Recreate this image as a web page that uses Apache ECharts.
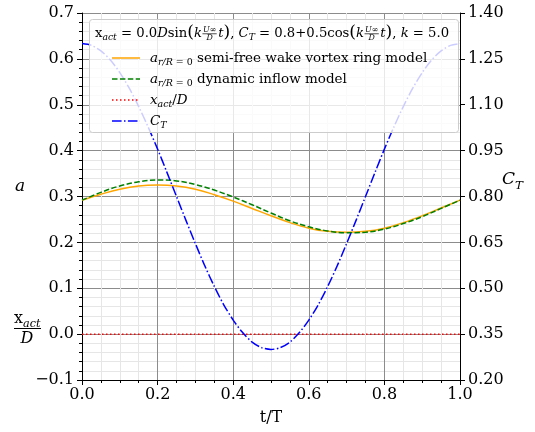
<!DOCTYPE html>
<html><head><meta charset="utf-8">
<script src="https://cdn.jsdelivr.net/npm/echarts@6/dist/echarts.min.js"></script>
<style>html,body{margin:0;padding:0;background:#fff}#c{width:535px;height:432px}</style>
</head><body><div id="c"></div>
<script>
// ---- data ----
const tA = [0,0.05,0.1,0.15,0.2,0.25,0.3,0.35,0.4,0.45,0.5,0.55,0.6,0.65,0.7,0.75,0.8,0.85,0.9,0.95,1.0];
const aSemiFree = [0.292,0.305,0.316,0.323,0.325,0.323,0.316,0.304,0.290,0.274,0.258,0.243,0.231,0.224,0.222,0.224,0.231,0.243,0.258,0.275,0.292];
const aDynInflow = [0.292,0.309,0.323,0.332,0.336,0.334,0.326,0.314,0.299,0.282,0.264,0.247,0.234,0.225,0.221,0.222,0.229,0.241,0.256,0.274,0.292];
const xActD = [0,0,0,0,0,0,0,0,0,0,0,0,0,0,0,0,0,0,0,0,0];
const tCT = [0,0.025,0.05,0.075,0.1,0.125,0.15,0.175,0.2,0.225,0.25,0.275,0.3,0.325,0.35,0.375,0.4,0.425,0.45,0.475,0.5,0.525,0.55,0.575,0.6,0.625,0.65,0.675,0.7,0.725,0.75,0.775,0.8,0.825,0.85,0.875,0.9,0.925,0.95,0.975,1.0];
const ctValues = [1.300,1.294,1.276,1.246,1.205,1.154,1.094,1.027,0.955,0.878,0.800,0.722,0.646,0.573,0.506,0.446,0.396,0.355,0.324,0.306,0.300,0.306,0.324,0.355,0.396,0.446,0.506,0.573,0.646,0.722,0.800,0.878,0.955,1.027,1.094,1.154,1.205,1.246,1.276,1.294,1.300];
const rightTicks = [0.20,0.35,0.50,0.65,0.80,0.95,1.10,1.25,1.40];

const FONT = 'DejaVu Serif';
const ctx2 = document.createElement('canvas').getContext('2d');
function fstr(sz, it){ return (it?'italic ':'') + sz + 'px "' + FONT + '", serif'; }
function mw(t, sz, it){ ctx2.font = fstr(sz,it); return ctx2.measureText(t).width; }
function txt(x, yc, t, sz, it, align){
  return {type:'text', z:101, x:x, y:yc, silent:true,
    style:{text:t, font:fstr(sz,it), fill:'#000', align:align||'left', textAlign:align||'left', verticalAlign:'middle', textVerticalAlign:'middle'}};
}
function mathRow(x, base, segs, sz, out){
  let cx = x;
  for (const s of segs){
    if (s.frac){
      const fs = sz*0.6;
      const wn = mw(s.frac[0], fs, true), wd = mw(s.frac[1], fs, true);
      const fw = Math.max(wn, wd) + 2;
      const ay = base - sz*0.32;
      out.push(txt(cx+fw/2, ay - fs*0.5, s.frac[0], fs, true, 'center'));
      out.push(txt(cx+fw/2, ay + fs*0.58, s.frac[1], fs, true, 'center'));
      out.push({type:'line', z:101, silent:true, shape:{x1:cx+0.5,y1:ay,x2:cx+fw-0.5,y2:ay}, style:{stroke:'#000', lineWidth:0.7}});
      cx += fw + 1;
      continue;
    }
    const fs = s.sub ? sz*0.7 : sz*(s.sc||1);
    const b = s.sub ? base + sz*0.22 : base + (s.sc ? sz*(s.sc-1)*0.25 : 0);
    out.push(txt(cx, b - fs*0.36, s.t, fs, s.it));
    cx += mw(s.t, fs, s.it);
  }
  return cx;
}

const G = [];
// legend box
G.push({type:'rect', z:100, silent:true, shape:{x:89.5,y:19.5,width:369,height:113,r:3}, style:{fill:'rgba(255,255,255,0.8)', stroke:'#cccccc', lineWidth:1}});
const LS = 13.5;
mathRow(95, 38, [
  {t:'x'},{t:'act',sub:true,it:true},{t:' = 0.0'},{t:'D',it:true},{t:'sin'},{t:'(',sc:1.3},{t:'k',it:true},{frac:['U∞','D']},{t:'t',it:true},{t:')',sc:1.3},{t:', '},
  {t:'C',it:true},{t:'T',sub:true,it:true},{t:' = 0.8+0.5cos'},{t:'(',sc:1.3},{t:'k',it:true},{frac:['U∞','D']},{t:'t',it:true},{t:')',sc:1.3},{t:', '},{t:'k',it:true},{t:' = 5.0'}
], 13.2, G);
const rows = [
  {y:58, color:'#FFA500', dash:null, segs:[{t:'a',it:true},{t:'r/R',sub:true,it:true},{t:' = 0',sub:true},{t:' semi-free wake vortex ring model'}]},
  {y:79, color:'#008000', dash:[5.5,2.4], segs:[{t:'a',it:true},{t:'r/R',sub:true,it:true},{t:' = 0',sub:true},{t:' dynamic inflow model'}]},
  {y:100, color:'#FF0000', dash:[1.5,2.5], segs:[{t:'x',it:true},{t:'act',sub:true,it:true},{t:'/'},{t:'D',it:true}]},
  {y:121, color:'#0000FF', dash:[9.6,2.4,1.5,2.4], segs:[{t:'C',it:true},{t:'T',sub:true,it:true}]}
];
for (const r of rows){
  G.push({type:'line', z:101, silent:true, shape:{x1:112,y1:r.y,x2:140,y2:r.y}, style:{stroke:r.color, lineWidth:1.5, lineDash:r.dash||null}});
  mathRow(150, r.y+5, r.segs, LS, G);
}
// left axis labels
G.push(txt(20, 187, 'a', 17, true, 'center'));
mathRow(14, 325, [{t:'x'},{t:'act',sub:true,it:true}], 16, G);
G.push({type:'line', z:101, silent:true, shape:{x1:14,y1:328.5,x2:41,y2:328.5}, style:{stroke:'#000', lineWidth:1}});
G.push(txt(27, 339, 'D', 16, true, 'center'));
// right axis label
mathRow(502, 186, [{t:'C',it:true},{t:'T',sub:true,it:true}], 17, G);

const chart = echarts.init(document.getElementById('c'), null, {renderer:'canvas'});
const axisText = {fontFamily:FONT, fontSize:16, color:'#000'};
chart.setOption({
  animation:false,
  backgroundColor:'#fff',
  grid:{left:82, right:75, top:13, bottom:52, containLabel:false},
  xAxis:{type:'value', min:0, max:1, interval:0.2,
    name:'t/T', nameLocation:'middle', nameGap:30, nameTextStyle:{fontFamily:FONT, fontSize:16, color:'#000'},
    axisLine:{show:true, onZero:false, lineStyle:{color:'#000', width:1}},
    axisTick:{show:true, length:5, inside:false, lineStyle:{color:'#000'}},
    minorTick:{show:true, splitNumber:4, length:3, lineStyle:{color:'#000'}},
    axisLabel:Object.assign({margin:7, formatter:v=>v.toFixed(1)}, axisText),
    splitLine:{show:true, lineStyle:{color:'#8c8c8c', width:1}},
    minorSplitLine:{show:true, lineStyle:{color:'#e6e6e6', width:1}}
  },
  yAxis:[
    {type:'value', position:'left', min:-0.1, max:0.7, interval:0.1,
      axisLine:{show:true, onZero:false, lineStyle:{color:'#000', width:1}},
      axisTick:{show:true, length:5, lineStyle:{color:'#000'}},
      minorTick:{show:true, splitNumber:5, length:3, lineStyle:{color:'#000'}},
      axisLabel:Object.assign({margin:8, formatter:v=>(v<-1e-9?'\u2212':'')+Math.abs(v).toFixed(1)}, axisText),
      splitLine:{show:true, lineStyle:{color:'#8c8c8c', width:1}},
      minorSplitLine:{show:true, lineStyle:{color:'#e6e6e6', width:1}}
    },
    {type:'value', position:'right', min:0.2, max:1.4,
      axisLine:{show:true, onZero:false, lineStyle:{color:'#000', width:1}},
      axisTick:{show:true, length:5, customValues:rightTicks, lineStyle:{color:'#000'}},
      axisLabel:Object.assign({margin:8, customValues:rightTicks, formatter:v=>v.toFixed(2)}, axisText),
      splitLine:{show:false}
    }
  ],
  series:[
    {type:'line', name:'semi-free', yAxisIndex:0, data:tA.map((t,i)=>[t,aSemiFree[i]]), showSymbol:false, smooth:0.4, lineStyle:{color:'#FFA500', width:1.5}, z:3},
    {type:'line', name:'dynamic', yAxisIndex:0, data:tA.map((t,i)=>[t,aDynInflow[i]]), showSymbol:false, smooth:0.4, lineStyle:{color:'#008000', width:1.5, type:[5.5,2.4]}, z:3},
    {type:'line', name:'xact', yAxisIndex:0, data:tA.map((t,i)=>[t,xActD[i]]), showSymbol:false, lineStyle:{color:'#FF0000', width:1.5, type:[1.5,2.5]}, z:3},
    {type:'line', name:'CT', yAxisIndex:1, data:tCT.map((t,i)=>[t,ctValues[i]]), showSymbol:false, smooth:0.3, lineStyle:{color:'#0000FF', width:1.5, type:[9.6,2.4,1.5,2.4]}, z:3}
  ],
  graphic:{elements:G}
});
</script></body></html>
